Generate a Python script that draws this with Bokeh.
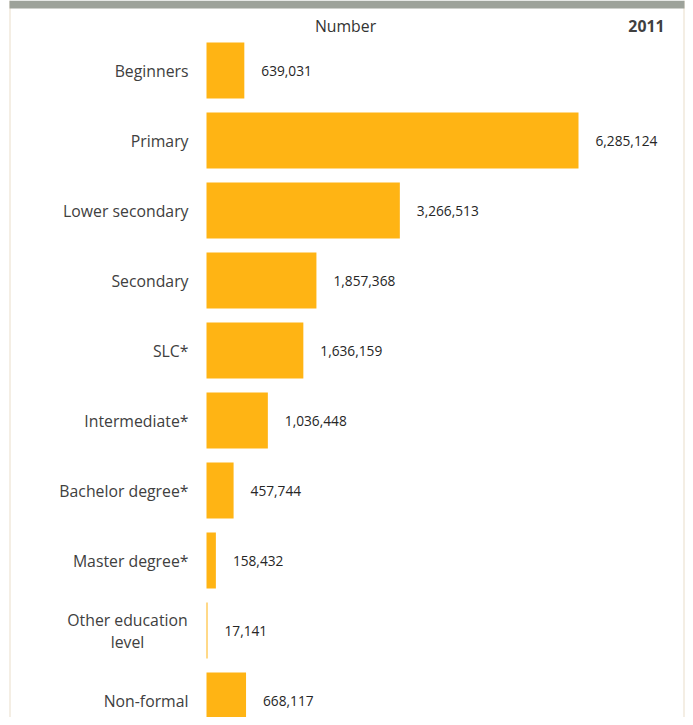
from bokeh.plotting import figure
from bokeh.models import Range1d, ColumnDataSource, Span, Label, BoxAnnotation
from bokeh.core.properties import value
from bokeh.embed import file_html
from bokeh.resources import INLINE

categories = ["Beginners", "Primary", "Lower secondary", "Secondary", "SLC*",
              "Intermediate*", "Bachelor degree*", "Master degree*",
              "Other education\nlevel", "Non-formal"]
values = [639031, 6285124, 3266513, 1857368, 1636159,
          1036448, 457744, 158432, 17141, 668117]
title_text = "Number"
year_text = "2011"

W, H = 685, 717
bar_x0 = 206          # px where bars start
max_px = 372          # px width of the largest bar
k = max(values) / max_px
first_c, pitch = 70, 70

x_range = Range1d(-bar_x0 * k, (W - bar_x0) * k)
y_range = Range1d((H - first_c) / pitch, -first_c / pitch)

def px_x(px):
    return (px - bar_x0) * k

def px_y(py):
    return (py - first_c) / pitch

p = figure(width=W, height=H, x_range=x_range, y_range=y_range,
           output_backend="svg", toolbar_location=None,
           min_border=0, min_border_left=0, min_border_right=0,
           min_border_top=0, min_border_bottom=0)
p.axis.visible = False
p.grid.visible = False
p.outline_line_color = None
p.background_fill_color = "white"
p.border_fill_color = "white"

idx = list(range(len(categories)))
single = [i for i, c in enumerate(categories) if "\n" not in c]
multi = [i for i, c in enumerate(categories) if "\n" in c]

src = ColumnDataSource(dict(y=idx, v=values,
                            lab=[f"{v:,}" for v in values]))
src_single = ColumnDataSource(dict(y=single, cat=[categories[i] for i in single],
                                   lx=[px_x(188)] * len(single)))
src_multi = ColumnDataSource(dict(y=multi, cat=[categories[i] for i in multi],
                                  lx=[px_x(127)] * len(multi)))

p.hbar(y="y", left=0, right="v", height=0.8, source=src,
       fill_color="#FFB414", line_color=None)

cat_style = dict(text_baseline="middle", text_font=value("Open Sans"),
                 text_font_size="15.8px", text_color="#404040",
                 text_line_height=1.0)
p.text(x="lx", y="y", text="cat", source=src_single, text_align="right",
       **cat_style)
p.text(x="lx", y="y", text="cat", source=src_multi, text_align="center",
       **cat_style)

p.text(x="v", y="y", text="lab", source=src, x_offset=17,
       text_align="left", text_baseline="middle",
       text_font=value("Open Sans"), text_font_size="13.7px",
       text_color="#262626")

p.add_layout(Label(x=345, y=H - 25, x_units="screen", y_units="screen",
                   text=title_text, text_align="center", text_baseline="middle",
                   text_font="Open Sans", text_font_size="15.8px",
                   text_color="#333333"))
p.add_layout(Label(x=664, y=H - 25, x_units="screen", y_units="screen",
                   text=year_text, text_align="right", text_baseline="middle",
                   text_font="Open Sans", text_font_size="15.8px",
                   text_font_style="bold", text_color="#404040"))

for px in (9.5, 683.5):
    p.add_layout(Span(location=px_x(px), dimension="height",
                      line_color="#F4EEE4", line_width=2))

p.add_layout(BoxAnnotation(left=px_x(9), right=px_x(684),
                           top=px_y(0), bottom=px_y(8),
                           fill_color="#9DA29A", fill_alpha=1.0,
                           line_color=None))

open("out.html", "w").write(file_html(p, INLINE))
